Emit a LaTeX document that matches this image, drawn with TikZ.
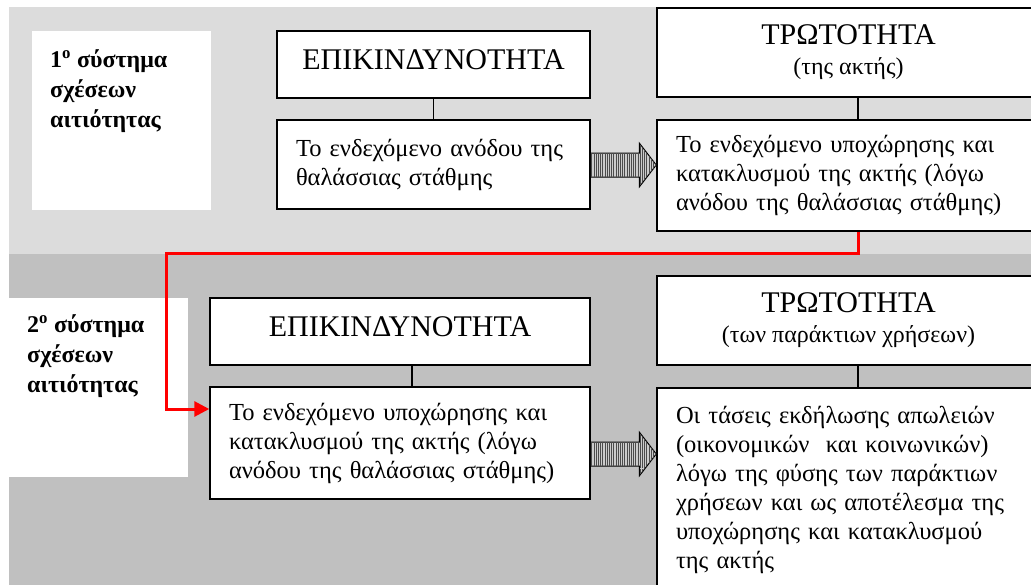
\documentclass[tikz,border=0pt]{standalone}
\usepackage{fontspec}
\setmainfont{Liberation Serif}
\usetikzlibrary{calc, positioning, arrows.meta, patterns.meta}
\definecolor{bandlight}{RGB}{220,220,220}
\definecolor{banddark}{RGB}{192,192,192}
\definecolor{linkred}{RGB}{255,0,0}

\begin{document}
\begin{tikzpicture}[x=1pt, y=-1pt]%{{{
        \useasboundingbox (0,0) rectangle (1031,584);
        \clip (0,0) rectangle (1031,584);

        % bands
        \fill [bandlight] (9,7) rectangle (1040,254);
        \fill [banddark] (9,254) rectangle (1040,600);

        \tikzstyle{lblbox} = [fill=white, minimum width=179pt, minimum height=179pt, inner sep=0pt, anchor=north west];
        \tikzstyle{lbltxt} = [inner sep=0pt, align=left, anchor=north west, font=\bfseries\fontsize{24}{30}\selectfont];
        \node [lblbox] (lblA) at (32,31) { };
        \node [lblbox] (lblB) at (9,298) { };
        \node [lbltxt] (lblAtext) at ($(lblA.north west) + (18,18)$) {1\textsuperscript{ο} σύστημα\\σχέσεων\\αιτιότητας};
        \node [lbltxt] (lblBtext) at ($(lblB.north west) + (18,16)$) {2\textsuperscript{ο} σύστημα\\σχέσεων\\αιτιότητας};

        \tikzstyle{hdr} = [draw, line width=1.5pt, fill=white, inner sep=0pt, align=center, font=\fontsize{30}{30}\selectfont];
        \node [hdr, minimum width=313pt, minimum height=67pt, text depth=10pt] (hdrA) at (433.5,64.5) {ΕΠΙΚΙΝΔΥΝΟΤΗΤΑ};
        \node [hdr, minimum width=383pt, minimum height=89pt] (hdrB) at (848.5,52.5) {ΤΡΩΤΟΤΗΤΑ\\{\fontsize{24}{29}\selectfont(της ακτής)}};
        \node [hdr, minimum width=380pt, minimum height=67pt, text depth=10pt] (hdrC) at (400,331.5) {ΕΠΙΚΙΝΔΥΝΟΤΗΤΑ};
        \node [hdr, minimum width=383pt, minimum height=89pt] (hdrD) at (848.5,320.5) {ΤΡΩΤΟΤΗΤΑ\\{\fontsize{24}{29}\selectfont(των παράκτιων χρήσεων)}};

        \tikzstyle{txt} = [draw, line width=1.5pt, fill=white, inner xsep=19pt, inner ysep=0pt, align=left, font=\fontsize{24.5}{29}\selectfont];
        \node [txt, text width=275pt, minimum height=89pt] (txtA) at (433.5,164.5) {Το ενδεχόμενο ανόδου της\\θαλάσσιας στάθμης};
        \node [txt, text width=345pt, minimum height=111pt] (txtB) at (848.5,175.5) {Το ενδεχόμενο υποχώρησης και\\κατακλυσμού της ακτής (λόγω\\ανόδου της θαλάσσιας στάθμης)};
        \node [txt, text width=342pt, minimum height=112pt] (txtC) at (400,443) {Το ενδεχόμενο υποχώρησης και\\κατακλυσμού της ακτής (λόγω\\ανόδου της θαλάσσιας στάθμης)};
        \node [txt, text width=345pt, inner ysep=18pt, anchor=north] (txtD) at (848.5,387) {Οι τάσεις εκδήλωσης απωλειών\\(οικονομικών\ \ και κοινωνικών)\\λόγω της φύσης των παράκτιων\\χρήσεων και ως αποτέλεσμα της\\υποχώρησης και κατακλυσμού\\της ακτής};

        % ties between heading and its box
        \tikzstyle{tie} = [line width=1.2pt];
        \foreach \up/\dn/\dx in {hdrA/txtA/0, hdrB/txtB/9.5, hdrC/txtC/12, hdrD/txtD/9.5}{
            \draw [tie] ([xshift=\dx pt]\up.south) -- ([xshift=\dx pt]\dn.north);
        }

        % hatched arrows
        \tikzstyle{fat} = [draw=black, line width=1pt, fill=white!80!black,
            postaction={pattern color=black!70, pattern={Lines[angle=90, distance=2.2pt, line width=1pt]}}];
        \foreach \src/\dst/\ya in {txtA/txtB/165, txtC/txtD/454}{
            \coordinate (ylvl) at (0,\ya);
            \coordinate (s) at (\src.east |- ylvl);
            \coordinate (t) at (\dst.west |- ylvl);
            \draw [fat] ($(s) + (0,-12)$) -- ($(t) + (-17,-12)$) -- ($(t) + (-17,-22)$) -- (t)
                -- ($(t) + (-17,22)$) -- ($(t) + (-17,12)$) -- ($(s) + (0,12)$) -- cycle;
        }

        % red link from the first system to the second
        \tikzstyle{redlink} = [draw=linkred, line width=3pt, -{Triangle[length=15pt, width=15pt]}];
        \coordinate (bendA) at (166,253);
        \draw [redlink] ([xshift=9.5pt]txtB.south) |- (bendA) |- ([yshift=34pt]txtC.west);
    \end{tikzpicture}%}}}
\end{document}
